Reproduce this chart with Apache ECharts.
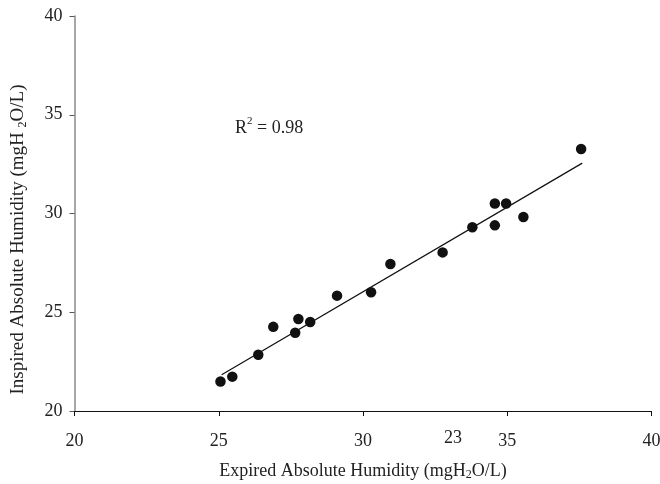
<!DOCTYPE html>
<html>
<head>
<meta charset="utf-8">
<script src="https://cdn.jsdelivr.net/npm/echarts@6/dist/echarts.min.js"></script>
<style>
  html, body { margin: 0; padding: 0; background: #fff; }
  #chart { width: 660px; height: 484px; }
</style>
</head>
<body>
<div id="chart"></div>
<script>
// Paired measurements: expired vs inspired absolute humidity (mgH2O/L)
const expired  = [25.06, 25.47, 26.37, 26.89, 27.65, 27.76, 28.17, 29.10, 30.28, 30.95, 32.76, 33.79, 34.57, 34.57, 34.96, 35.56, 37.56];
const inspired = [21.49, 21.74, 22.85, 24.26, 23.96, 24.66, 24.51, 25.84, 26.01, 27.44, 28.03, 29.30, 30.51, 29.40, 30.51, 29.82, 33.27];

// Fitted line end points
const fitX = [25.10, 37.60];
const fitY = [21.84, 32.55];

const xTicks = [20, 25, 30, 35, 40];
const yTicks = [20, 25, 30, 35, 40];
const rSquared = '0.98';
const strayLabel = '23';

const FONT = '"Liberation Serif", "Times New Roman", serif';

const chart = echarts.init(document.getElementById('chart'), null, { renderer: 'canvas' });

const points = expired.map((x, i) => [x, inspired[i]]);
const fitLine = fitX.map((x, i) => [x, fitY[i]]);

chart.setOption({
  animation: false,
  backgroundColor: '#ffffff',
  textStyle: { fontFamily: FONT },
  grid: { left: 74.5, right: 8.5, top: 16, bottom: 73, containLabel: false, outerBoundsMode: 'none' },
  xAxis: {
    type: 'value',
    min: xTicks[0],
    max: xTicks[xTicks.length - 1],
    interval: 5,
    name: '{n|Expired Absolute Humidity (mgH}{s|2}{n|O/L)}',
    nameLocation: 'middle',
    nameGap: 50,
    nameTextStyle: {
      rich: {
        n: { fontFamily: FONT, fontSize: 18, color: '#222' },
        s: { fontFamily: FONT, fontSize: 12, color: '#222', padding: [8, 0, 0, 0] }
      }
    },
    axisLine: { show: true, lineStyle: { color: '#111', width: 1 } },
    axisTick: { show: true, inside: false, length: 5, lineStyle: { color: '#111' } },
    axisLabel: { margin: 21, fontFamily: FONT, fontSize: 18, color: '#222' },
    splitLine: { show: false },
    z: 3
  },
  yAxis: {
    type: 'value',
    min: yTicks[0],
    max: yTicks[yTicks.length - 1],
    interval: 5,
    name: '{n|Inspired Absolute Humidity (mgH }{s|2}{n|O/L)}',
    nameLocation: 'middle',
    nameRotate: 90,
    nameGap: 46,
    nameTextStyle: {
      padding: [0, 52, 0, 0],
      rich: {
        n: { fontFamily: FONT, fontSize: 19, color: '#222' },
        s: { fontFamily: FONT, fontSize: 12, color: '#222', padding: [8, 0, 0, 0] }
      }
    },
    axisLine: { show: true, lineStyle: { color: '#8a8a8a', width: 1.5 } },
    axisTick: { show: true, inside: false, length: 5, lineStyle: { color: '#555' } },
    axisLabel: { margin: 12, fontFamily: FONT, fontSize: 18, color: '#222' },
    splitLine: { show: false }
  },
  series: [
    {
      type: 'line',
      data: fitLine,
      symbol: 'none',
      lineStyle: { color: '#111', width: 1.2 },
      z: 2
    },
    {
      type: 'scatter',
      data: points,
      symbol: 'circle',
      symbolSize: 10.5,
      itemStyle: { color: '#111', opacity: 1 },
      z: 3
    }
  ],
  graphic: [
    {
      type: 'text',
      left: 235,
      top: 116,
      style: {
        text: '{n|R}{p|2}{n| = ' + rSquared + '}',
        rich: {
          n: { fontFamily: FONT, fontSize: 18, fill: '#222', padding: [6, 0, 0, 0] },
          p: { fontFamily: FONT, fontSize: 11, fill: '#222', padding: [0, 0, 8, 0] }
        }
      }
    },
    {
      type: 'text',
      left: 444,
      top: 429,
      style: { text: strayLabel, fontFamily: FONT, fontSize: 18, fill: '#222' }
    }
  ]
});
</script>
</body>
</html>
